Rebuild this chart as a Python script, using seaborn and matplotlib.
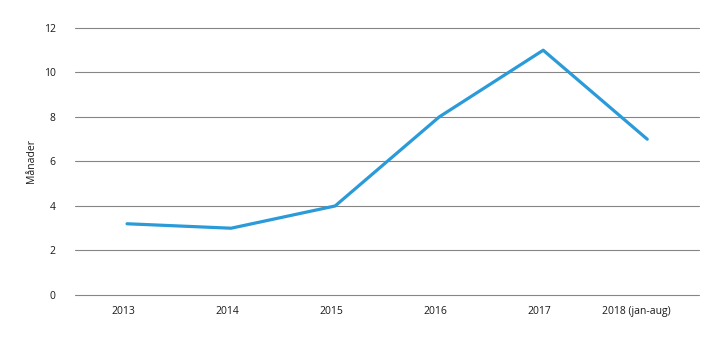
import matplotlib
matplotlib.use("Agg")
import matplotlib.pyplot as plt
import matplotlib.transforms as mtransforms
import seaborn as sns
import pandas as pd

years = ["2013", "2014", "2015", "2016", "2017", "2018 (jan-aug)"]
months = [3.2, 3.0, 4.0, 8.0, 11.0, 7.0]
y_ticks = [0, 2, 4, 6, 8, 10, 12]

sns.set_theme(style="white")
plt.rcParams["font.family"] = ["Open Sans", "DejaVu Sans"]

df = pd.DataFrame({"year": years, "months": months})

fig = plt.figure(figsize=(7.2, 3.41), dpi=100)
ax = fig.add_axes([0.1042, 0.135, 0.867, 0.783])

sns.lineplot(data=df, x="year", y="months", sort=False, ax=ax,
             color="#2a9bd8", linewidth=2.3, zorder=3)

ax.set_xlim(-0.5, len(years) - 0.5)
ax.set_ylim(0, 12)
ax.set_yticks(y_ticks)
ax.yaxis.grid(True, color="#858585", linewidth=0.8)
for gl in ax.yaxis.get_gridlines():
    gl.set_clip_on(False)
ax.set_axisbelow(True)
for s in ax.spines.values():
    s.set_visible(False)
ax.tick_params(axis="both", length=0, labelsize=7.5, colors="#1a1a1a")
ax.tick_params(axis="y", pad=14)
ax.tick_params(axis="x", pad=8)

# nudge category labels slightly left of their points
for i, lbl in enumerate(ax.get_xticklabels()):
    dx = -11 if i == len(years) - 1 else -4
    lbl.set_transform(lbl.get_transform() +
                      mtransforms.ScaledTranslation(dx / 100, 0, fig.dpi_scale_trans))

ax.set_xlabel("")
ax.set_ylabel("Månader", fontsize=7.5, color="#1a1a1a", labelpad=5)

fig.savefig("out.png", dpi=100)
